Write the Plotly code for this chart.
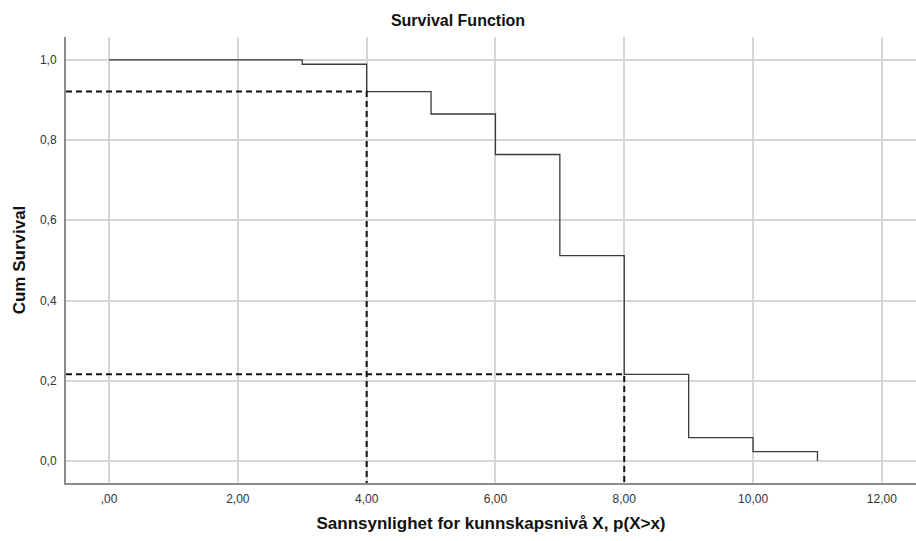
import plotly.graph_objects as go

# Kaplan-Meier style survival estimate at each knowledge level
levels = [0, 3, 4, 5, 6, 7, 8, 9, 10, 11]
cum_survival = [1.0, 0.989, 0.921, 0.865, 0.764, 0.512, 0.216, 0.058, 0.023, 0.0]

# Reference levels marked with dashed guide lines
marked_levels = [4, 8]

x_tickvals = [0, 2, 4, 6, 8, 10, 12]
x_ticktext = [",00", "2,00", "4,00", "6,00", "8,00", "10,00", "12,00"]
y_tickvals = [0.0, 0.2, 0.4, 0.6, 0.8, 1.0]
y_ticktext = ["0,0", "0,2", "0,4", "0,6", "0,8", "1,0"]

x_range = [-0.668, 12.53]
y_range = [-0.055, 1.057]

FONT = "Liberation Sans, Arial, sans-serif"

fig = go.Figure()

fig.add_trace(go.Scatter(
    x=levels, y=cum_survival, mode="lines", line_shape="hv",
    line=dict(color="#3a3a3a", width=1.3), showlegend=False, hoverinfo="skip",
))

for lvl in marked_levels:
    s = cum_survival[levels.index(lvl)]
    fig.add_trace(go.Scatter(
        x=[x_range[0], lvl, lvl], y=[s, s, y_range[0]], mode="lines",
        line=dict(color="#111111", width=2, dash="6px,4px"),
        showlegend=False, hoverinfo="skip", cliponaxis=True,
    ))

fig.update_layout(
    width=916, height=541,
    margin=dict(l=66, r=0, t=37, b=58),
    paper_bgcolor="white", plot_bgcolor="white",
    font=dict(family=FONT, color="#222222"),
    title=dict(text="<b>Survival Function</b>", x=0.5, xanchor="center",
               y=1 - 20 / 541, yanchor="middle",
               font=dict(size=16, family=FONT, color="#111111")),
)

fig.update_xaxes(
    range=x_range, tickvals=x_tickvals, ticktext=x_ticktext,
    showgrid=True, gridcolor="#d6d6d6", gridwidth=1.5,
    showline=True, linecolor="#8c8c8c", linewidth=2,
    zeroline=False, ticks="", ticklabelstandoff=4,
    tickfont=dict(size=12, color="#333333"),
    title=dict(text="<b>Sannsynlighet for kunnskapsnivå X, p(X>x)</b>",
               font=dict(size=17, color="#111111"), standoff=12),
)
fig.update_yaxes(
    range=y_range, tickvals=y_tickvals, ticktext=y_ticktext,
    showgrid=True, gridcolor="#d6d6d6", gridwidth=1.5,
    showline=True, linecolor="#8c8c8c", linewidth=2,
    zeroline=False, ticks="", ticklabelstandoff=5,
    tickfont=dict(size=12, color="#333333"),
    title=dict(text="<b>Cum Survival</b>",
               font=dict(size=17, color="#111111"), standoff=10),
)

fig.write_html("out.html")
